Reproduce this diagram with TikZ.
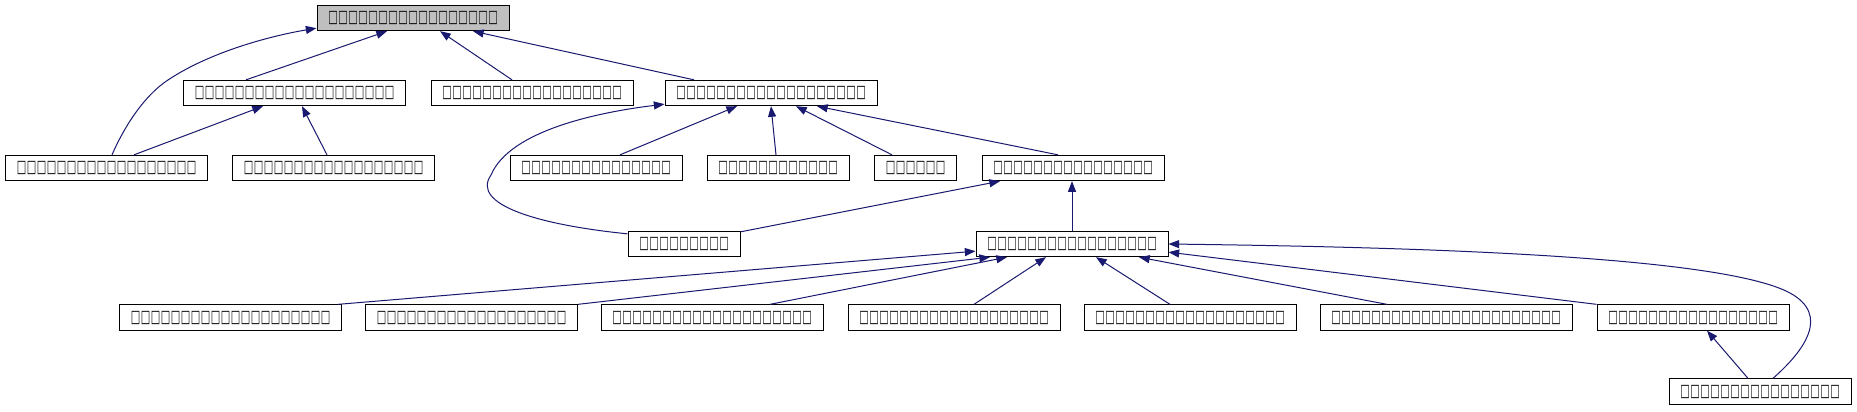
\documentclass[tikz,border=0pt]{standalone}
\usepackage{fontspec}
\usepackage{graphicx}
\newfontfamily\boxfont{DejaVu Sans}
\usetikzlibrary{arrows.meta,calc}
\definecolor{edgeblue}{HTML}{191970}
\definecolor{rootgray}{HTML}{BFBFBF}
\newcommand{\tofu}[1]{\foreach \m in {1,...,#1}{\makebox[7.5pt]{\scalebox{0.58}[1]{\boxfont\fontsize{13pt}{15pt}\selectfont □}}}}

\begin{document}
\begin{tikzpicture}[x=0.75pt,y=-0.75pt,
		cls/.style={draw=black, line width=0.75pt, fill=white, inner xsep=8.25pt, inner ysep=0pt, minimum height=19pt},
		root/.style={cls, fill=rootgray},
		edge/.style={draw=edgeblue, line width=0.75pt, -{Triangle[length=8pt,width=6pt]}}]
	\fill[white] (0,0) rectangle (1857,411);
	\useasboundingbox (0,0) rectangle (1857,411);

	\node[root] (top) at (413,18) {\tofu{17}};

	\node[cls] (a) at (294.5,93) {\tofu{20}};
	\node[cls] (b) at (532,93) {\tofu{18}};
	\node[cls] (c) at (771,93) {\tofu{19}};

	\node[cls] (d) at (106.5,168) {\tofu{18}};
	\node[cls] (e) at (333.5,168) {\tofu{18}};
	\node[cls] (f) at (596,168) {\tofu{15}};
	\node[cls] (g) at (778,168) {\tofu{12}};
	\node[cls] (h) at (915.5,168) {\tofu{6}};
	\node[cls] (i) at (1073,168) {\tofu{16}};

	\node[cls] (j) at (684,244) {\tofu{9}};
	\node[cls] (k) at (1072,244) {\tofu{17}};

	\node[cls] (l) at (230.5,317.5) {\tofu{20}};
	\node[cls] (m) at (471.5,317.5) {\tofu{19}};
	\node[cls] (n) at (712,317.5) {\tofu{20}};
	\node[cls] (o) at (954,317.5) {\tofu{19}};
	\node[cls] (p) at (1190,317.5) {\tofu{19}};
	\node[cls] (q) at (1446,317.5) {\tofu{23}};
	\node[cls] (r) at (1693,317.5) {\tofu{17}};

	\node[cls] (s) at (1760,391.5) {\tofu{16}};

	\draw[edge] ($(d.north)+(5.5,0)$) .. controls (125,125) and (145,95) .. (168,80)
		.. controls (210,52) and (270,36) .. ($(top.south west)+(0,-3)$);
	\draw[edge] ($(a.north)+(-48.5,0)$) -- ($(top.south)+(-26,0)$);
	\draw[edge] ($(b.north)+(-20,0)$) -- ($(top.south)+(27,0)$);
	\draw[edge] ($(c.north)+(-77,0)$) -- ($(top.south)+(60,0)$);

	\draw[edge] ($(d.north)+(27.5,0)$) -- ($(a.south)+(-31.5,0)$);
	\draw[edge] ($(e.north)+(-6.5,0)$) -- ($(a.south)+(7.5,0)$);

	\draw[edge] ($(f.north)+(24,0)$) -- ($(c.south)+(-34,0)$);
	\draw[edge] ($(g.north)+(-2,0)$) -- (c.south);
	\draw[edge] ($(h.north)+(-23.5,0)$) -- ($(c.south)+(25,0)$);
	\draw[edge] ($(i.north)+(-15,0)$) -- ($(c.south)+(46,0)$);
	\draw[edge] ($(j.north west)+(0,3)$) .. controls (540,225) and (470,205) .. (491,175)
		.. controls (510,130) and (600,112) .. ($(c.south west)+(0,-2)$);

	\draw[edge] ($(j.north east)+(0,1)$) -- ($(i.south)+(-73,0)$);
	\draw[edge] (k.north) -- (k.north |- i.south);

	\draw[edge] ($(l.north east)+(-4,0)$) -- ($(k.south west)+(0,-6)$);
	\draw[edge] (m.north east) -- ($(k.south)+(-82,0)$);
	\draw[edge] ($(n.north)+(58,0)$) -- ($(k.south)+(-65,0)$);
	\draw[edge] ($(o.north)+(20,0)$) -- ($(k.south)+(-26,0)$);
	\draw[edge] ($(p.north)+(-20,0)$) -- ($(k.south)+(24,0)$);
	\draw[edge] ($(q.north)+(-59,0)$) -- ($(k.south)+(67,0)$);
	\draw[edge] (r.north west) -- ($(k.south east)+(0,-5)$);
	\draw[edge] ($(s.north)+(13,0)$) .. controls (1805,350) and (1830,315) .. (1790,293)
		.. controls (1720,255) and (1400,247) .. (k.east);
	\draw[edge] ($(s.north)+(-12,0)$) -- ($(r.south)+(14,0)$);
\end{tikzpicture}
\end{document}
